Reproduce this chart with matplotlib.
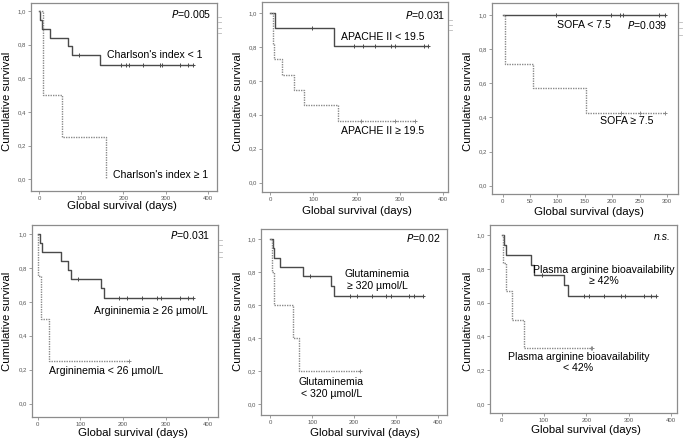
import matplotlib
matplotlib.use("Agg")
import matplotlib.pyplot as plt

plt.rcParams['font.family'] = ['Liberation Sans', 'DejaVu Sans']

W, H = 685, 441
fig = plt.figure(figsize=(W / 100, H / 100), dpi=100)

# ---------------- data ----------------
# Panel 1: Charlson's index
charl_lo_t = [0, 3, 7, 26, 69, 77, 145]
charl_lo_s = [1.0, 0.947, 0.895, 0.842, 0.789, 0.737, 0.680]
charl_lo_end = 365
charl_lo_cens_t = [95, 193, 207, 213, 245, 286, 292, 334, 353, 365]
charl_hi_t = [0, 9, 55, 158]
charl_hi_s = [1.0, 0.5, 0.25, 0.0]
charl_hi_end = 158
charl_hi_cens_t = []

# Panel 2: APACHE II
apache_lo_t = [0, 10, 147]
apache_lo_s = [1.0, 0.909, 0.808]
apache_lo_end = 365
apache_lo_cens_t = [96, 194, 216, 243, 280, 290, 356, 365]
apache_hi_t = [0, 5, 6.5, 8, 26, 54, 78, 156]
apache_hi_s = [1.0, 0.909, 0.818, 0.727, 0.636, 0.545, 0.455, 0.364]
apache_hi_end = 335
apache_hi_cens_t = [210, 290, 335]

# Panel 3: SOFA
sofa_lo_t = [0]
sofa_lo_s = [1.0]
sofa_lo_end = 297
sofa_lo_cens_t = [97, 198, 214, 219, 286, 297]
sofa_hi_t = [0, 4, 55, 152]
sofa_hi_s = [1.0, 0.714, 0.571, 0.429]
sofa_hi_end = 297
sofa_hi_cens_t = [216, 250, 297]

# Panel 4: Argininemia
arg_hi_t = [0, 5, 10, 55, 71, 78, 148, 156]
arg_hi_s = [1.0, 0.947, 0.895, 0.842, 0.789, 0.737, 0.680, 0.624]
arg_hi_end = 365
arg_hi_cens_t = [96, 192, 209, 244, 279, 289, 334, 353, 365]
arg_lo_t = [0, 2, 8, 28]
arg_lo_s = [1.0, 0.75, 0.5, 0.25]
arg_lo_end = 215
arg_lo_cens_t = [215]

# Panel 5: Glutaminemia
glu_hi_t = [0, 5.6, 10, 24, 77, 145.5, 153]
glu_hi_s = [1.0, 0.944, 0.889, 0.833, 0.778, 0.718, 0.658]
glu_hi_end = 364
glu_hi_cens_t = [94, 191, 208, 242, 277, 288, 330, 344, 364]
glu_lo_t = [0, 4, 9.5, 54, 67.6]
glu_lo_s = [1.0, 0.8, 0.6, 0.4, 0.2]
glu_lo_end = 215
glu_lo_cens_t = [215]

# Panel 6: Plasma arginine bioavailability
bio_hi_t = [0, 5.5, 9.4, 69, 77, 147, 156]
bio_hi_s = [1.0, 0.941, 0.882, 0.824, 0.765, 0.702, 0.637]
bio_hi_end = 365
bio_hi_cens_t = [96, 194, 207, 242, 281, 290, 335, 352, 365]
bio_lo_t = [0, 4, 9.5, 25, 53.5]
bio_lo_s = [1.0, 0.833, 0.667, 0.5, 0.333]
bio_lo_end = 212
bio_lo_cens_t = [210, 213]

y_ticks = [0.0, 0.2, 0.4, 0.6, 0.8, 1.0]
y_tick_labels = ["0,0", "0,2", "0,4", "0,6", "0,8", "1,0"]
x_ticks_400 = [0, 100, 200, 300, 400]
x_ticks_300 = [0, 50, 100, 150, 200, 250, 300]

# ---------------- style ----------------
SOLID_C = "#4a4a4a"
DOT_C = "#8a8a8a"
FRAME_C = "#8c8c8c"
ANN_FS = 7.6
LAB_FS = 8.2


def px_box(x0, y0, x1, y1):
    return [x0 / W, 1 - y1 / H, (x1 - x0) / W, (y1 - y0) / H]


def fig_text(x, y, s, **kw):
    fig.text(x / W, 1 - y / H, s, **kw)


def km(ax, t, s, end, cens, dotted):
    xs = list(t) + [end]
    ys = list(s) + [s[-1]]
    if dotted:
        ax.step(xs, ys, where='post', color=DOT_C, lw=1.0, ls=(0, (1, 0.8)))
    else:
        ax.step(xs, ys, where='post', color=SOLID_C, lw=1.0)
    if cens:
        cy = []
        for c in cens:
            v = s[0]
            for tt, ss in zip(t, s):
                if tt <= c:
                    v = ss
            cy.append(v)
        ax.plot(cens, cy, ls='none', marker='+', ms=3.2, mew=0.7,
                color=DOT_C if dotted else SOLID_C)


def setup(box, xlim, ylim, xticks):
    ax = fig.add_axes(px_box(*box))
    ax.set_xlim(*xlim)
    ax.set_ylim(*ylim)
    for sp in ax.spines.values():
        sp.set_color(FRAME_C)
        sp.set_linewidth(0.9)
    ax.set_yticks(y_ticks)
    ax.set_yticklabels(y_tick_labels)
    ax.set_xticks(xticks)
    ax.set_xticklabels([str(v) for v in xticks])
    ax.tick_params(axis='both', direction='out', length=2, width=0.5,
                   color="#777777", labelsize=4.3, labelcolor="#555555", pad=1.5)
    return ax


def legend_ticks(x, ys):
    for y in ys:
        fig.add_artist(plt.Line2D([x / W, (x + 3) / W], [1 - y / H, 1 - y / H],
                                  color="#bbbbbb", lw=0.6))


# Panel 1
ax1 = setup((31, 3, 217, 191), (-18.9, 421.3), (-0.070, 1.0475), x_ticks_400)
km(ax1, charl_lo_t, charl_lo_s, charl_lo_end, charl_lo_cens_t, False)
km(ax1, charl_hi_t, charl_hi_s, charl_hi_end, charl_hi_cens_t, True)
ax1.text(407, 0.982, r"$\it{P}$=0.005", ha='right', va='center', fontsize=ANN_FS)
ax1.text(161, 0.738, "Charlson's index < 1", ha='left', va='center', fontsize=ANN_FS)
ax1.text(174, 0.026, "Charlson's index ≥ 1", ha='left', va='center', fontsize=ANN_FS)
legend_ticks(218, [17, 22, 28, 33])

# Panel 2
ax2 = setup((262, 2, 448, 192), (-19.6, 412.6), (-0.056, 1.065), x_ticks_400)
km(ax2, apache_lo_t, apache_lo_s, apache_lo_end, apache_lo_cens_t, False)
km(ax2, apache_hi_t, apache_hi_s, apache_hi_end, apache_hi_cens_t, True)
ax2.text(406, 0.99, r"$\it{P}$=0.031", ha='right', va='center', fontsize=ANN_FS)
ax2.text(163, 0.859, "APACHE II < 19.5", ha='left', va='center', fontsize=ANN_FS)
ax2.text(163, 0.306, "APACHE II ≥ 19.5", ha='left', va='center', fontsize=ANN_FS)
legend_ticks(449, [20, 25, 30])

# Panel 3
ax3 = setup((492, 3, 678, 194), (-19.3, 320), (-0.049, 1.072), x_ticks_300)
km(ax3, sofa_lo_t, sofa_lo_s, sofa_lo_end, sofa_lo_cens_t, False)
km(ax3, sofa_hi_t, sofa_hi_s, sofa_hi_end, sofa_hi_cens_t, True)
ax3.text(301, 0.943, r"$\it{P}$=0.039", ha='right', va='center', fontsize=ANN_FS)
ax3.text(99, 0.943, "SOFA < 7.5", ha='left', va='center', fontsize=ANN_FS)
ax3.text(177, 0.381, "SOFA ≥ 7.5", ha='left', va='center', fontsize=ANN_FS)
legend_ticks(679, [22, 28, 35])

# Panel 4
ax4 = setup((32, 225, 218, 417), (-13, 423), (-0.079, 1.053), x_ticks_400)
km(ax4, arg_hi_t, arg_hi_s, arg_hi_end, arg_hi_cens_t, False)
km(ax4, arg_lo_t, arg_lo_s, arg_lo_end, arg_lo_cens_t, True)
ax4.text(406, 0.994, r"$\it{P}$=0.031", ha='right', va='center', fontsize=ANN_FS)
ax4.text(133, 0.547, "Argininemia ≥ 26 µmol/L", ha='left', va='center', fontsize=ANN_FS)
ax4.text(26, 0.191, "Argininemia < 26 µmol/L", ha='left', va='center', fontsize=ANN_FS)
legend_ticks(219, [240, 245, 252, 257])

# Panel 5
ax5 = setup((261, 229, 447, 415), (-22, 421.7), (-0.065, 1.062), x_ticks_400)
km(ax5, glu_hi_t, glu_hi_s, glu_hi_end, glu_hi_cens_t, False)
km(ax5, glu_lo_t, glu_lo_s, glu_lo_end, glu_lo_cens_t, True)
ax5.text(406, 1.006, r"$\it{P}$=0.02", ha='right', va='center', fontsize=ANN_FS)
ax5.text(255, 0.75, "Glutaminemia\n≥ 320 µmol/L", ha='center', va='center',
         fontsize=ANN_FS, linespacing=1.25)
ax5.text(146, 0.099, "Glutaminemia\n< 320 µmol/L", ha='center', va='center',
         fontsize=ANN_FS, linespacing=1.25)

# Panel 6
ax6 = setup((490, 225, 677, 413), (-27.7, 414), (-0.053, 1.059), x_ticks_400)
km(ax6, bio_hi_t, bio_hi_s, bio_hi_end, bio_hi_cens_t, False)
km(ax6, bio_lo_t, bio_lo_s, bio_lo_end, bio_lo_cens_t, True)
ax6.text(398, 0.986, "n.s.", ha='right', va='center', fontsize=ANN_FS, style='italic')
ax6.text(242, 0.76, "Plasma arginine bioavailability\n≥ 42%", ha='center', va='center',
         fontsize=ANN_FS, linespacing=1.15)
ax6.text(181, 0.247, "Plasma arginine bioavailability\n< 42%", ha='center', va='center',
         fontsize=ANN_FS, linespacing=1.15)

# Axis labels (placed in figure pixels)
ylab_pos = [(7, 101), (238, 101), (468, 101), (7, 321), (238, 321), (468, 321)]
xlab_pos = [(122, 206), (357, 211), (589, 212), (133, 433), (365, 433), (586, 430)]
for (x, y) in ylab_pos:
    fig_text(x, y, "Cumulative survival", rotation=90, ha='center', va='center',
             fontsize=LAB_FS)
for (x, y) in xlab_pos:
    fig_text(x, y, "Global survival (days)", ha='center', va='center', fontsize=LAB_FS)

fig.savefig("out.png", dpi=100)
